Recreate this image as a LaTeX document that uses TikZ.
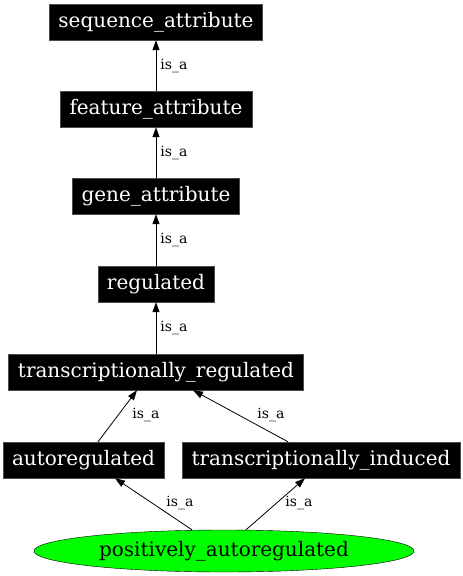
\documentclass[tikz,border=0pt]{standalone}
\usepackage{fontspec}
\setmainfont{DejaVu Serif}
\usetikzlibrary{shapes.geometric,arrows.meta}
\begin{document}
\begin{tikzpicture}[x=1pt,y=-1pt,
  term/.style={draw=black!70,fill=black,text=white,rectangle,inner sep=0pt,minimum height=36pt,font=\fontsize{20}{22}\selectfont},
  leaf/.style={draw=black,fill=green,ellipse,inner sep=0pt,minimum width=380pt,minimum height=42pt,font=\fontsize{20}{22}\selectfont},
  isa/.style={draw=black,line width=0.8pt,-{Triangle[length=10pt,width=7pt]}},
  lab/.style={font=\fontsize{14}{16}\selectfont,inner sep=0pt}]
\useasboundingbox (0,0) rectangle (463,576);
\node[term,minimum width=213pt] (sa) at (156,22) {sequence\_attribute};
\node[term,minimum width=192pt] (fa) at (156,109) {feature\_attribute};
\node[term,minimum width=167pt] (ga) at (156,196) {gene\_attribute};
\node[term,minimum width=116pt] (re) at (156,284) {regulated};
\node[term,minimum width=295pt] (tr) at (156,372) {transcriptionally\_regulated};
\node[term,minimum width=161pt] (au) at (83.5,460) {autoregulated};
\node[term,minimum width=278pt] (ti) at (321,460) {transcriptionally\_induced};
\node[leaf] (pa) at (224,551) {positively\_autoregulated};
\draw[isa] (fa.north) -- (sa.south) node[lab,pos=0.5,right=4pt] {is\_a};
\draw[isa] (ga.north) -- (fa.south) node[lab,pos=0.5,right=4pt] {is\_a};
\draw[isa] (re.north) -- (ga.south) node[lab,pos=0.5,right=4pt] {is\_a};
\draw[isa] (tr.north) -- (re.south) node[lab,pos=0.5,right=4pt] {is\_a};
\draw[isa] ([xshift=14.5pt]au.north) -- ([xshift=-19pt]tr.south);
\node[lab] (l5) at (146,415) {is\_a};
\draw[isa] ([xshift=-33pt]ti.north) -- ([xshift=37pt]tr.south);
\node[lab] (l6) at (271,415) {is\_a};
\draw[isa] ([xshift=-32pt]pa.north) -- ([xshift=31.5pt]au.south);
\node[lab] (l7) at (180,503) {is\_a};
\draw[isa] ([xshift=22pt]pa.north) -- ([xshift=-16pt]ti.south);
\node[lab] (l8) at (299,503) {is\_a};
\end{tikzpicture}
\end{document}
